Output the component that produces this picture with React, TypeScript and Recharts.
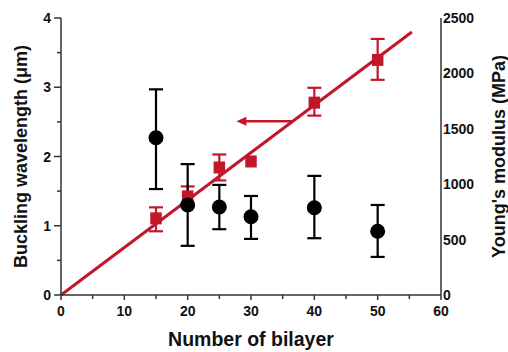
import {
  ComposedChart, Scatter, Line, XAxis, YAxis, ErrorBar, ReferenceLine, ReferenceDot, Label,
} from 'recharts';

const layers = [15, 20, 25, 30, 40, 50];
const wavelength = [2.27, 1.3, 1.27, 1.13, 1.26, 0.92];
const wavelengthLow = [1.53, 0.71, 0.95, 0.81, 0.82, 0.55];
const wavelengthHigh = [2.97, 1.89, 1.59, 1.43, 1.72, 1.3];
const modulus = [692, 890, 1151, 1205, 1736, 2122];
const modulusLow = [575, 810, 1034, 1205, 1619, 1942];
const modulusHigh = [791, 980, 1268, 1205, 1870, 2311];
const fitX = [0, 55.4];
const fitY = [0, 2374];
const xTicks = [0, 5, 10, 15, 20, 25, 30, 35, 40, 45, 50, 55, 60];
const leftTicks = [0, 0.5, 1, 1.5, 2, 2.5, 3, 3.5, 4];
const rightTicks = [0, 500, 1000, 1500, 2000, 2500];

const RED = '#c4162a';
const AXIS = '#333';
const FONT = "'Liberation Sans', Arial, sans-serif";

// no bar at all when the spread is zero (the 30-layer modulus point)
const spread = (v: number, lo: number, hi: number) => (lo === v && hi === v ? null : [v - lo, hi - v]);

const blackData = layers.map((x, i) => ({
  x, y: wavelength[i], err: spread(wavelength[i], wavelengthLow[i], wavelengthHigh[i]),
}));
const redData = layers.map((x, i) => ({
  x, y: modulus[i], err: spread(modulus[i], modulusLow[i], modulusHigh[i]),
}));
const fitData = fitX.map((x, i) => ({ x, y: fitY[i] }));

const tickText = { fontFamily: FONT, fontWeight: 700, fontSize: 14, fill: '#111' };
const titleText = { fontFamily: FONT, fontWeight: 700, fill: '#111', textAnchor: 'middle' as const };

const XTick = (props: any) => {
  const { x, y, payload } = props;
  const major = payload.value % 10 === 0;
  return (
    <g>
      <line x1={x} y1={y} x2={x} y2={y + (major ? 5 : 4)} stroke={AXIS} strokeWidth={1.5} />
      {major && <text x={x} y={y + 21} textAnchor="middle" {...tickText}>{payload.value}</text>}
    </g>
  );
};

const LeftTick = (props: any) => {
  const { x, y, payload } = props;
  const major = Number.isInteger(payload.value);
  return (
    <g>
      <line x1={x - (major ? 7 : 4)} y1={y} x2={x} y2={y} stroke={AXIS} strokeWidth={1.5} />
      {major && <text x={x - 10} y={y + 5} textAnchor="end" {...tickText}>{payload.value}</text>}
    </g>
  );
};

const RightTick = (props: any) => {
  const { x, y, payload } = props;
  return <text x={x + 2} y={y + 5} textAnchor="start" {...tickText}>{payload.value}</text>;
};

// axis titles placed from the axis box (x, y, width, height)
const XTitle = (props: any) => {
  const vb = props.viewBox;
  return (
    <text x={vb.x + vb.width / 2} y={vb.y + vb.height - 6} fontSize={19.5} {...titleText}>
      Number of bilayer
    </text>
  );
};

const SideTitle = ({ viewBox, cx, text }: any) => {
  const x = viewBox.x + cx;
  const y = viewBox.y + viewBox.height / 2;
  return (
    <text x={x} y={y} dy={6} transform={`rotate(-90 ${x} ${y})`} fontSize={18} {...titleText}>
      {text}
    </text>
  );
};

const Dot = (p: any) => <circle cx={p.cx} cy={p.cy} r={7.5} fill="#000" />;
const Square = (p: any) => <rect x={p.cx - 5.75} y={p.cy - 6} width={11.5} height={12} fill={RED} />;
const ArrowHead = (p: any) => (
  <polygon points={`${p.cx},${p.cy} ${p.cx + 10},${p.cy - 4.5} ${p.cx + 10},${p.cy + 4.5}`} fill={RED} />
);

export default function App() {
  return (
    <div style={{ position: 'absolute', left: 0, top: 0, background: '#fff', width: 508, height: 352 }}>
      <ComposedChart width={508} height={352} margin={{ top: 18, right: 0, bottom: 0, left: 0 }}>
        <XAxis
          type="number" dataKey="x" domain={[0, 60]} ticks={xTicks} interval={0}
          tickSize={0} tickMargin={0} tick={<XTick />} height={57}
          axisLine={{ stroke: AXIS, strokeWidth: 1.5 }}
        >
          <Label content={<XTitle />} />
        </XAxis>
        <YAxis
          yAxisId="left" type="number" dataKey="y" domain={[0, 4]} ticks={leftTicks} interval={0}
          tickSize={0} tickMargin={0} tick={<LeftTick />} width={61}
          axisLine={{ stroke: AXIS, strokeWidth: 1.5 }}
        >
          <Label content={<SideTitle cx={21} text="Buckling wavelength (μm)" />} />
        </YAxis>
        <YAxis
          yAxisId="right" orientation="right" type="number" dataKey="y" domain={[0, 2500]}
          ticks={rightTicks} interval={0} tickSize={0} tickMargin={0} tick={<RightTick />} width={67}
          axisLine={{ stroke: AXIS, strokeWidth: 1.5 }}
        >
          <Label content={<SideTitle cx={58} text="Young's modulus (MPa)" />} />
        </YAxis>
        <Line yAxisId="right" data={fitData} dataKey="y" stroke={RED} strokeWidth={3}
          dot={false} isAnimationActive={false} />
        <ReferenceLine yAxisId="left" segment={[{ x: 36.5, y: 2.51 }, { x: 28.5, y: 2.51 }]}
          stroke={RED} strokeWidth={2.5} />
        <ReferenceDot yAxisId="left" x={27.7} y={2.51} shape={<ArrowHead />} />
        <Scatter yAxisId="right" data={redData} dataKey="y" shape={<Square />} isAnimationActive={false}>
          <ErrorBar dataKey="err" direction="y" width={7} stroke={RED} strokeWidth={2.2} isAnimationActive={false} />
        </Scatter>
        <Scatter yAxisId="left" data={blackData} dataKey="y" shape={<Dot />} isAnimationActive={false}>
          <ErrorBar dataKey="err" direction="y" width={7} stroke="#000" strokeWidth={2.2} isAnimationActive={false} />
        </Scatter>
      </ComposedChart>
    </div>
  );
}
